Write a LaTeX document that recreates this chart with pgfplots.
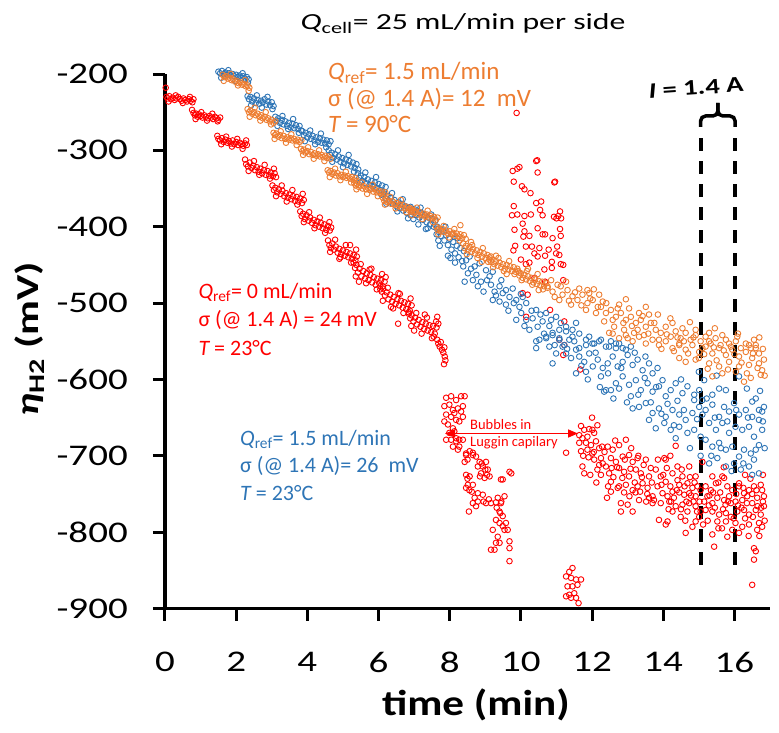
\documentclass[border=0pt]{standalone}
\usepackage{fontspec}
\setmainfont{Carlito}
\newfontfamily\chartfont{Carlito}[FakeStretch=1.3]
\newfontfamily\ylabfont{Carlito}[FakeStretch=1.34]
\newfontfamily\xlabfont{Carlito}[FakeStretch=1.2]
\newfontfamily\titlefont{Carlito}[FakeStretch=1.38]
\usepackage{pgfplots}
\pgfplotsset{compat=1.18}
\usetikzlibrary{arrows.meta}
\definecolor{ored}{RGB}{255,0,0}
\definecolor{oblue}{RGB}{46,117,182}
\definecolor{oorange}{RGB}{237,125,49}
\begin{document}
\begin{tikzpicture}
\begin{axis}[
  at={(0pt,0pt)}, anchor=south west, scale only axis,
  width=605pt, height=534.5pt,
  xmin=0, xmax=17, ymin=-900, ymax=-200,
  axis x line=bottom, axis y line=left,
  axis line style={line width=3.3pt, -},
  tick align=outside, major tick length=12pt,
  every tick/.style={black, line width=3pt},
  xtick={0,2,4,6,8,10,12,14,16},
  xticklabels={0,2,4,6,8,10,12,14,16},
  ytick={-900,-800,-700,-600,-500,-400,-300,-200},
  yticklabels={-900,-800,-700,-600,-500,-400,-300,-200},
  xticklabel style={font={\chartfont\fontsize{30}{36}\selectfont}, anchor=north, inner sep=0pt, yshift=-31.5pt},
  yticklabel style={font={\chartfont\fontsize{30}{36}\selectfont}, anchor=east, inner sep=0pt, xshift=-25pt},
  clip=false,
  every axis plot/.append style={only marks, mark=o, mark size=2.8pt, every mark/.append style={line width=0.9pt, solid}},
]
% red: Q_ref = 0 mL/min, 23 C
\addplot[ored] coordinates {
(0.02,-218) (0.04,-230) (0.08,-232) (0.12,-229) (0.17,-233) (0.22,-231) (0.27,-234) (0.32,-232) (0.37,-230) (0.42,-233) (0.47,-235) (0.52,-232) (0.57,-234) (0.62,-236) (0.67,-233) (0.72,-235) (0.77,-237) (0.80,-233)
(0.10,-236) (0.30,-228) (0.50,-238) (0.70,-230)
(0.76,-247) (0.80,-251) (0.84,-254) (0.88,-252) (0.92,-256) (0.96,-253) (1.00,-255) (1.05,-257) (1.10,-254) (1.15,-256) (1.20,-258) (1.25,-255) (1.30,-257) (1.35,-259) (1.40,-256) (1.45,-258) (1.50,-260) (1.55,-257)
(0.86,-259) (1.02,-250) (1.18,-261) (1.33,-252) (1.48,-262)
(1.47,-281) (1.50,-285) (1.55,-287) (1.60,-284) (1.65,-289) (1.70,-286) (1.75,-290) (1.80,-288) (1.85,-291) (1.90,-287) (1.95,-292) (2.00,-289) (2.05,-293) (2.10,-290) (2.15,-292) (2.20,-294) (2.25,-291) (2.30,-293)
(1.58,-292) (1.72,-282) (1.88,-295) (2.03,-285) (2.18,-298) (2.28,-287)
(2.25,-312) (2.28,-318) (2.33,-321) (2.38,-316) (2.43,-323) (2.48,-320) (2.53,-326) (2.58,-322) (2.63,-328) (2.68,-324) (2.73,-330) (2.78,-326) (2.83,-332) (2.88,-327) (2.93,-333) (2.98,-329) (3.03,-334) (3.08,-330) (3.12,-335)
(2.35,-327) (2.50,-314) (2.65,-332) (2.80,-319) (2.95,-337) (3.06,-324)
(3.02,-346) (3.06,-352) (3.10,-349) (3.15,-355) (3.20,-351) (3.25,-357) (3.30,-353) (3.35,-360) (3.40,-356) (3.45,-362) (3.50,-358) (3.55,-364) (3.60,-360) (3.65,-366) (3.70,-361) (3.75,-367) (3.80,-363) (3.85,-369) (3.90,-365)
(3.12,-360) (3.28,-346) (3.42,-367) (3.58,-352) (3.72,-371) (3.87,-357)
(3.80,-380) (3.84,-386) (3.88,-383) (3.93,-390) (3.98,-385) (4.03,-392) (4.08,-388) (4.13,-395) (4.18,-391) (4.23,-398) (4.28,-393) (4.33,-400) (4.38,-395) (4.43,-402) (4.48,-397) (4.53,-404) (4.58,-399) (4.63,-405) (4.67,-401)
(3.90,-394) (4.05,-381) (4.20,-402) (4.35,-388) (4.50,-408) (4.62,-394)
(4.58,-418) (4.62,-424) (4.66,-428) (4.70,-422) (4.75,-430) (4.80,-426) (4.85,-434) (4.90,-429) (4.95,-436) (5.00,-431) (5.05,-438) (5.10,-433) (5.15,-440) (5.20,-435) (5.25,-442) (5.30,-437) (5.35,-444) (5.39,-439) (4.9,-442) (5.2,-424)
(4.64,-433) (4.78,-417) (4.93,-440) (5.08,-424) (5.23,-447) (5.37,-430)
(5.30,-447) (5.34,-454) (5.38,-450) (5.42,-460) (5.47,-455) (5.52,-465) (5.57,-458) (5.62,-468) (5.67,-461) (5.72,-470) (5.77,-463) (5.82,-473) (5.87,-466) (5.92,-476) (5.97,-468) (6.02,-474) (6.07,-470) (6.12,-478) (6.17,-472) (6.20,-466) (5.45,-472) (5.75,-456) (6.05,-482)
(5.36,-465) (5.50,-449) (5.65,-474) (5.80,-455) (5.95,-482) (6.10,-462)
(6.05,-478) (6.09,-485) (6.13,-481) (6.18,-490) (6.23,-486) (6.28,-495) (6.33,-489) (6.38,-498) (6.43,-492) (6.48,-501) (6.53,-495) (6.58,-503) (6.63,-497) (6.68,-506) (6.73,-499) (6.78,-508) (6.83,-501) (6.88,-510) (6.93,-503) (6.35,-505) (6.60,-488) (6.85,-514)
(6.12,-497) (6.26,-480) (6.41,-507) (6.56,-487) (6.70,-513) (6.90,-494)
(6.55,-527) (6.85,-512) (6.89,-520) (6.93,-516) (6.98,-524) (7.03,-519) (7.08,-528) (7.13,-522) (7.18,-531) (7.23,-525) (7.28,-534) (7.33,-527) (7.38,-536) (7.43,-529) (7.48,-538) (7.53,-530) (7.58,-540) (7.63,-532) (7.68,-527) (7.00,-536) (7.30,-515) (7.55,-544) (7.65,-518)
(6.92,-530) (7.06,-513) (7.21,-540) (7.36,-519) (7.50,-546) (7.62,-524)
(7.65,-548) (7.68,-553) (7.72,-557) (7.75,-551) (7.78,-561) (7.82,-565) (7.85,-558) (7.86,-570) (7.88,-575) (7.84,-580)
(7.90,-624) (8.04,-622) (8.18,-627) (8.32,-622) (8.42,-622) (7.85,-635) (7.99,-633) (8.09,-640) (8.23,-638) (8.37,-635) (7.90,-646) (8.04,-649) (8.13,-644) (8.32,-642) (7.85,-655) (7.95,-659) (8.18,-653) (8.27,-655) (8.37,-649) (8.09,-664) (7.99,-670) (8.13,-668) (7.90,-679) (8.04,-679) (8.18,-677) (8.27,-679) (8.37,-679)
(8.09,-688) (8.23,-692) (8.46,-699) (8.18,-681) (8.65,-696) (8.50,-705) (8.27,-688) (8.46,-697) (8.56,-694) (8.65,-699) (8.74,-701) (8.42,-708) (8.84,-708) (9.02,-708) (8.93,-714) (8.79,-714) (9.07,-718) (8.46,-725) (8.56,-727) (8.88,-723) (8.98,-729) (9.12,-727) (9.44,-731) (9.73,-723) (9.68,-721) (9.49,-731)
(8.51,-738) (8.46,-742) (8.65,-738) (8.79,-749) (8.93,-751) (8.65,-762) (8.79,-760) (9.02,-762) (9.16,-762) (9.30,-761) (9.44,-762) (9.54,-753) (8.54,-773) (8.74,-766) (9.40,-773) (9.49,-779) (9.30,-784) (9.40,-788) (9.58,-788) (9.21,-797) (9.54,-797) (9.63,-797) (9.35,-806) (9.30,-814) (9.40,-814) (9.68,-812) (9.16,-823) (9.26,-823) (9.68,-821) (9.68,-838) (9.49,-792)
(8.90,-710) (9.00,-718) (9.05,-725) (8.85,-727) (8.50,-730) (8.55,-745) (8.62,-747) (8.70,-755) (8.95,-760) (9.10,-757) (9.35,-755) (9.45,-760) (9.32,-768) (9.42,-775)
(9.88,-251) (10.43,-314) (10.46,-313) (9.77,-327) (9.90,-324) (9.96,-322) (10.47,-329) (10.94,-342) (10.96,-341) (9.80,-341) (10.03,-347) (10.10,-351) (10.27,-356) (10.43,-369) (10.57,-367) (9.80,-373) (10.54,-378) (10.61,-385) (11.10,-380) (11.05,-386) (10.93,-387) (11.13,-389) (11.00,-389) (9.75,-385) (9.90,-384) (10.10,-386) (10.28,-384) (10.05,-396) (9.82,-404) (10.47,-402) (10.61,-410) (10.68,-410) (10.10,-406) (10.24,-412) (10.07,-413) (11.10,-403) (11.12,-412) (10.89,-415) (9.84,-425) (10.14,-426) (10.31,-426) (10.52,-428) (10.78,-430) (11.02,-426) (9.79,-431) (10.38,-435) (10.47,-439) (10.68,-438) (10.99,-435) (10.00,-443) (10.14,-449) (10.24,-447) (11.08,-437) (11.12,-449) (11.19,-450) (10.87,-446) (10.87,-454) (10.66,-456) (10.68,-472) (10.38,-467) (11.19,-470) (10.05,-487) (10.19,-489) (10.82,-509) (11.22,-524) (11.08,-548) (10.15,-518) (11.22,-555) (11.19,-568) (11.67,-587) (11.27,-696)
(11.45,-847) (11.36,-852) (11.27,-858) (11.41,-860) (11.55,-862) (11.69,-862) (11.31,-871) (11.45,-871) (11.59,-869) (11.27,-884) (11.36,-882) (11.50,-880) (11.41,-886) (11.55,-886) (11.62,-893)
(11.69,-661) (11.78,-666) (11.92,-665) (12.01,-666) (11.64,-673) (11.73,-677) (11.87,-675) (12.06,-670) (11.83,-683) (11.97,-686) (12.11,-681) (11.64,-683) (11.69,-694) (11.87,-692) (12.01,-697) (12.20,-690) (11.73,-714) (11.78,-723) (12.06,-705) (12.25,-703) (12.30,-710) (12.39,-714) (12.15,-718)
(12.44,-688) (12.58,-692) (12.76,-686) (12.95,-679) (13.04,-699) (12.53,-703) (12.67,-708) (12.86,-701) (13.14,-708) (13.28,-703) (12.48,-723) (12.76,-716) (12.90,-721) (13.04,-727) (13.23,-718) (13.37,-723) (13.51,-705) (13.60,-727) (12.76,-740) (12.95,-738) (13.14,-745) (13.28,-740) (13.42,-736) (13.56,-742) (13.70,-753) (12.53,-747) (12.81,-762) (13.00,-764) (13.14,-773) (13.32,-758) (13.60,-755) (13.70,-762) (12.53,-734) (13.88,-784) (14.12,-786) (14.07,-790) (12.81,-773)
(12.20,-712) (12.35,-695) (12.60,-728) (12.70,-715) (12.90,-748) (13.10,-690) (13.20,-735) (13.45,-712) (13.55,-750) (13.65,-716) (12.45,-740) (12.65,-680) (12.05,-695) (11.90,-702) (12.25,-725) (13.35,-747) (13.05,-753) (12.85,-729)
(13.79,-718) (13.93,-727) (14.07,-734) (14.26,-723) (14.40,-714) (14.54,-727) (14.68,-736) (14.82,-742) (14.96,-740) (13.84,-740) (13.98,-749) (14.12,-753) (14.26,-747) (14.45,-738) (14.59,-751) (14.73,-749) (14.91,-753) (15.05,-745) (13.74,-758) (13.93,-762) (14.17,-760) (14.35,-766) (14.54,-764) (14.73,-762) (14.91,-766) (15.05,-773) (14.26,-773) (14.49,-780) (14.68,-773) (14.82,-793) (14.63,-801) (14.91,-786) (15.01,-780) (14.07,-705) (14.35,-687) (14.73,-714) (14.91,-727) (14.03,-703) (15.10,-708)
(14.00,-725) (14.20,-740) (14.30,-755) (14.45,-748) (14.60,-740) (14.75,-728) (14.85,-760) (14.95,-773) (14.15,-770) (14.50,-770) (14.65,-760) (14.40,-732)
(15.19,-740) (15.34,-745) (15.48,-736) (15.66,-727) (15.80,-740) (15.94,-745) (16.13,-740) (16.27,-749) (16.41,-745) (16.55,-740) (16.74,-738) (16.78,-745) (15.24,-753) (15.38,-762) (15.52,-755) (15.71,-758) (15.85,-753) (16.03,-760) (16.22,-758) (16.36,-753) (16.50,-762) (16.64,-755) (16.83,-753) (15.19,-771) (15.38,-773) (15.57,-777) (15.76,-775) (15.90,-780) (16.08,-773) (16.27,-771) (16.41,-777) (16.60,-771) (16.74,-777) (16.83,-766)
(15.52,-786) (15.76,-786) (16.03,-788) (16.22,-793) (16.41,-790) (16.64,-797) (16.78,-793) (15.38,-803) (15.80,-806) (15.43,-819) (16.55,-821) (16.60,-825) (16.55,-836) (16.50,-869) (15.38,-727) (15.71,-729) (16.13,-736) (16.69,-788) (16.13,-801) (15.94,-797)
(15.15,-760) (15.30,-752) (15.45,-768) (15.60,-748) (15.75,-764) (15.90,-762) (16.05,-750) (16.20,-768) (16.35,-762) (16.50,-750) (16.65,-766) (16.80,-760) (15.25,-785) (15.65,-795) (16.30,-782) (16.70,-805) (15.55,-735) (16.45,-730)
(11.75,-700) (11.95,-725) (12.12,-735) (12.28,-688) (12.42,-755) (12.55,-716) (12.72,-742) (12.92,-705) (13.08,-717) (13.22,-748) (13.40,-728) (13.52,-760) (13.68,-735) (13.85,-705) (13.95,-738) (14.10,-716) (14.22,-760) (14.38,-745) (14.52,-718) (14.62,-785) (14.78,-752) (14.88,-735) (15.02,-760) (15.12,-790) (15.28,-765) (15.40,-748) (15.55,-795) (15.68,-770) (15.82,-760) (15.98,-782) (16.10,-765) (16.25,-742) (16.40,-805) (16.52,-780) (16.62,-745) (16.75,-768) (16.85,-785) (12.00,-650) (12.15,-660) (13.30,-700) (14.20,-700) (15.70,-715) (16.30,-725) (16.80,-725)
};
% blue: Q_ref = 1.5 mL/min, 23 C
\addplot[oblue] coordinates {
(1.50,-197) (1.55,-199) (1.60,-196) (1.65,-200) (1.70,-198) (1.75,-201) (1.80,-199) (1.85,-202) (1.90,-200) (1.95,-203) (2.00,-201) (2.05,-204) (2.10,-202) (2.15,-205) (2.20,-203) (2.25,-206) (2.30,-204) (2.35,-207)
(1.58,-205) (1.78,-195) (1.98,-209) (2.18,-199) (2.33,-211)
(2.32,-229) (2.36,-233) (2.40,-230) (2.45,-236) (2.50,-232) (2.55,-238) (2.60,-234) (2.65,-239) (2.70,-235) (2.75,-237) (2.80,-233) (2.85,-240) (2.90,-236) (2.95,-241) (3.00,-237) (3.05,-242)
(2.42,-241) (2.58,-228) (2.72,-244) (2.88,-230) (3.02,-246)
(3.10,-256) (3.14,-261) (3.18,-258) (3.23,-264) (3.28,-260) (3.33,-266) (3.38,-262) (3.43,-268) (3.48,-264) (3.53,-270) (3.58,-265) (3.63,-271) (3.68,-267) (3.73,-272) (3.78,-268) (3.83,-274)
(3.16,-268) (3.30,-255) (3.46,-272) (3.60,-259) (3.76,-277)
(3.86,-275) (3.90,-280) (3.95,-277) (4.00,-283) (4.05,-279) (4.10,-285) (4.15,-281) (4.20,-287) (4.25,-283) (4.30,-289) (4.35,-284) (4.40,-290) (4.45,-286) (4.50,-291) (4.55,-287) (4.60,-292) (4.65,-288)
(3.93,-288) (4.08,-274) (4.22,-292) (4.38,-278) (4.53,-296)
(4.60,-300) (4.64,-306) (4.68,-303) (4.73,-310) (4.78,-305) (4.83,-312) (4.88,-308) (4.93,-315) (4.98,-310) (5.03,-317) (5.08,-312) (5.13,-319) (5.18,-314) (5.23,-321) (5.28,-316) (5.33,-323) (5.38,-318) (5.43,-325)
(4.70,-315) (4.86,-300) (5.00,-322) (5.16,-306) (5.31,-328)
(5.42,-330) (5.46,-336) (5.50,-333) (5.55,-340) (5.60,-335) (5.65,-343) (5.70,-338) (5.75,-345) (5.80,-340) (5.85,-347) (5.90,-342) (5.95,-349) (6.00,-344) (6.05,-352) (6.10,-346) (6.15,-354) (6.20,-348)
(5.48,-342) (5.63,-329) (5.78,-350) (5.93,-335) (6.08,-358)
(6.15,-357) (6.20,-363) (6.25,-360) (6.30,-367) (6.35,-362) (6.40,-370) (6.45,-365) (6.50,-373) (6.55,-368) (6.60,-376) (6.65,-370) (6.70,-379) (6.75,-373) (6.80,-382) (6.85,-375) (6.90,-385) (6.95,-378)
(6.22,-370) (6.38,-356) (6.53,-380) (6.68,-364) (6.83,-389)
(6.90,-374) (6.95,-381) (7.00,-377) (7.05,-385) (7.10,-379) (7.15,-388) (7.20,-382) (7.25,-391) (7.30,-385) (7.35,-394) (7.40,-388) (7.45,-397) (7.50,-390) (7.55,-400) (7.60,-392) (7.65,-403) (7.12,-397) (7.38,-402)
(6.98,-390) (7.18,-375) (7.33,-403) (7.48,-384) (7.63,-410)
(7.65,-400) (7.70,-407) (7.75,-412) (7.80,-405) (7.85,-418) (7.90,-411) (7.95,-424) (8.00,-416) (8.05,-430) (8.10,-420) (8.15,-435) (8.20,-425) (8.25,-440) (8.30,-428) (8.35,-445) (8.40,-432) (7.72,-425) (7.95,-438) (8.15,-447)
(7.68,-418) (7.88,-400) (8.02,-441) (8.22,-415) (8.38,-452) (8.08,-410)
(8.46,-444) (8.56,-439) (8.70,-452) (8.84,-448) (8.51,-461) (8.65,-470) (8.88,-472) (9.02,-457) (9.12,-465) (9.21,-459) (8.42,-472) (8.79,-478) (9.16,-476) (9.26,-485) (9.40,-478) (9.49,-487) (9.58,-483) (9.68,-492) (9.77,-481) (9.21,-496) (9.40,-498) (9.58,-502) (9.87,-496) (9.96,-505) (10.05,-492) (10.15,-500) (10.01,-513) (10.15,-522) (10.33,-520) (10.43,-509) (10.24,-535) (9.87,-522) (10.47,-531) (10.61,-524) (10.71,-513) (10.85,-522) (10.99,-518) (10.52,-548) (10.71,-546) (10.89,-539) (11.08,-535) (11.27,-531) (11.45,-535) (11.55,-526) (10.43,-559) (10.80,-557) (11.08,-548) (11.22,-555) (11.36,-548) (11.64,-559) (11.83,-555) (12.01,-553) (12.20,-550) (12.48,-557) (12.67,-553) (12.86,-559)
(10.43,-550) (10.71,-544) (10.89,-542) (11.08,-546) (11.27,-537) (11.45,-544) (11.64,-540) (11.83,-548) (11.92,-544) (12.06,-553) (12.25,-548) (12.39,-557) (12.53,-550) (12.67,-559) (12.76,-553) (12.95,-561) (13.09,-557) (10.89,-579) (10.99,-566) (11.17,-557) (11.27,-566) (11.41,-572) (11.55,-561) (11.64,-570) (11.78,-577) (11.92,-566) (12.02,-583) (12.16,-574) (12.30,-585) (12.44,-579) (12.58,-570) (12.72,-583) (12.86,-577) (13.00,-568) (13.14,-581) (13.28,-574) (13.42,-588) (13.60,-579) (13.70,-592) (13.84,-585) (13.98,-601) (11.55,-592) (11.83,-590) (12.25,-596)
(12.39,-614) (12.67,-605) (12.86,-596) (13.04,-607) (13.23,-601) (13.37,-614) (13.56,-605) (13.70,-616) (13.88,-609) (14.07,-622) (14.21,-614) (14.35,-605) (14.54,-618) (14.68,-609) (14.87,-620) (15.01,-614) (12.34,-616) (12.53,-614) (12.76,-612) (13.09,-622) (13.32,-636) (13.51,-631) (13.70,-644) (13.88,-638) (14.07,-649) (14.26,-640) (14.45,-646) (14.63,-653) (14.82,-644) (15.01,-636) (15.10,-627) (13.14,-638) (13.60,-653) (13.79,-664) (14.03,-657) (14.21,-666) (14.45,-662) (14.68,-670) (14.87,-666) (15.05,-675)
(15.19,-640) (15.38,-633) (15.57,-649) (15.71,-636) (15.85,-642) (15.99,-631) (16.13,-646) (16.32,-640) (16.50,-649) (16.69,-640) (16.83,-636) (15.29,-657) (15.48,-666) (15.66,-657) (15.85,-670) (16.03,-662) (16.22,-666) (16.41,-662) (16.55,-675) (16.69,-653) (16.78,-666) (15.19,-679) (15.38,-688) (15.57,-683) (15.76,-692) (15.94,-688) (16.13,-701) (16.27,-692) (16.46,-697) (16.60,-692) (16.69,-686) (15.29,-710) (15.52,-703) (15.76,-714) (15.99,-710) (16.18,-718) (16.41,-714) (16.50,-725) (16.69,-723) (15.15,-601) (15.76,-614) (16.13,-596) (16.50,-629) (16.78,-642) (14.35,-677) (15.10,-646) (14.87,-627) (15.38,-620) (15.57,-612) (16.60,-625)
(8.60,-455) (8.75,-463) (8.95,-485) (9.05,-470) (9.30,-490) (9.45,-470) (9.65,-510) (9.80,-500) (10.00,-488) (10.10,-530) (10.30,-510) (10.55,-515) (10.65,-540) (10.80,-530) (10.95,-555) (11.12,-526) (11.30,-560) (11.50,-550) (11.70,-582) (11.88,-600) (12.10,-565) (12.22,-610) (12.45,-592) (12.60,-625) (12.82,-585) (12.98,-630) (13.20,-565) (13.30,-620) (13.48,-598) (13.65,-630) (13.80,-610) (13.95,-645) (14.12,-632) (14.30,-660) (14.40,-628) (14.58,-640) (14.75,-690) (14.95,-652) (15.05,-700) (15.22,-625) (15.35,-700) (15.45,-650) (15.62,-690) (15.80,-655) (15.92,-720) (16.05,-640) (16.25,-710) (16.38,-650) (16.55,-705) (16.72,-615) (16.85,-690) (15.00,-590) (15.50,-595) (16.35,-612) (14.50,-600) (13.50,-570) (16.80,-655)
};
% orange: Q_ref = 1.5 mL/min, 90 C
\addplot[oorange] coordinates {
(1.62,-201) (1.67,-204) (1.72,-203) (1.77,-206) (1.82,-205) (1.87,-208) (1.92,-207) (1.97,-210) (2.02,-209) (2.07,-212) (2.12,-211) (2.17,-214) (2.22,-213) (2.27,-216) (2.32,-215) (2.37,-218)
(1.65,-209) (1.85,-200) (2.05,-215) (2.25,-208) (2.35,-222)
(2.32,-246) (2.36,-250) (2.40,-248) (2.45,-252) (2.50,-250) (2.55,-254) (2.60,-252) (2.65,-256) (2.70,-254) (2.75,-258) (2.80,-256) (2.85,-260) (2.90,-258) (2.95,-262) (3.00,-260) (3.05,-264) (3.10,-262)
(2.38,-256) (2.52,-244) (2.68,-261) (2.83,-250) (2.98,-266)
(3.05,-277) (3.09,-280) (3.13,-278) (3.18,-282) (3.23,-280) (3.28,-284) (3.33,-281) (3.38,-285) (3.43,-283) (3.48,-286) (3.53,-284) (3.58,-287) (3.63,-285) (3.68,-288) (3.73,-286) (3.78,-289) (3.83,-287)
(3.08,-285) (3.25,-275) (3.40,-290) (3.55,-279) (3.70,-293)
(3.82,-298) (3.86,-301) (3.90,-299) (3.95,-303) (4.00,-301) (4.05,-305) (4.10,-302) (4.15,-306) (4.20,-304) (4.25,-307) (4.30,-305) (4.35,-308) (4.40,-306) (4.45,-309) (4.50,-307) (4.55,-310) (4.60,-308) (4.65,-311)
(3.88,-306) (4.02,-296) (4.18,-311) (4.33,-300) (4.48,-314)
(4.57,-326) (4.61,-329) (4.65,-327) (4.70,-331) (4.75,-329) (4.80,-333) (4.85,-330) (4.90,-334) (4.95,-332) (5.00,-335) (5.05,-333) (5.10,-336) (5.15,-334) (5.20,-337) (5.25,-335) (5.30,-339) (5.35,-336) (5.39,-340)
(4.63,-335) (4.78,-324) (4.93,-339) (5.08,-328) (5.23,-342)
(5.32,-343) (5.36,-346) (5.40,-344) (5.45,-348) (5.50,-346) (5.55,-350) (5.60,-347) (5.65,-351) (5.70,-349) (5.75,-352) (5.80,-350) (5.85,-354) (5.90,-351) (5.95,-355) (6.00,-353) (6.05,-356) (6.10,-354) (6.15,-358) (6.19,-355)
(5.38,-351) (5.53,-342) (5.68,-357) (5.83,-345) (5.98,-360)
(6.12,-362) (6.16,-366) (6.20,-364) (6.25,-368) (6.30,-366) (6.35,-370) (6.40,-367) (6.45,-371) (6.50,-369) (6.55,-373) (6.60,-371) (6.65,-375) (6.70,-372) (6.75,-376) (6.80,-374) (6.85,-378) (6.90,-376) (6.94,-380)
(6.18,-371) (6.33,-361) (6.48,-376) (6.63,-365) (6.78,-381)
(6.88,-376) (6.92,-380) (6.96,-378) (7.01,-382) (7.06,-380) (7.11,-384) (7.16,-381) (7.21,-385) (7.26,-383) (7.31,-387) (7.36,-384) (7.41,-388) (7.46,-386) (7.51,-389) (7.56,-387) (7.61,-391) (7.66,-388)
(6.93,-385) (7.08,-375) (7.23,-390) (7.38,-379) (7.53,-394)
(7.62,-400) (7.66,-404) (7.70,-402) (7.75,-406) (7.80,-403) (7.85,-407) (7.90,-405) (7.95,-409) (8.00,-406) (8.05,-410) (8.10,-408) (8.15,-412) (8.20,-409) (8.25,-413) (8.30,-410) (8.35,-415) (8.40,-411) (8.45,-416) (8.30,-398)
(7.68,-410) (7.83,-399) (7.98,-414) (8.13,-403) (8.28,-418)
(8.38,-422) (8.42,-428) (8.46,-425) (8.51,-431) (8.56,-427) (8.61,-433) (8.66,-429) (8.71,-435) (8.76,-431) (8.81,-437) (8.86,-433) (8.91,-439) (8.96,-435) (9.01,-441) (9.06,-437) (9.11,-443) (9.16,-439) (8.60,-420) (8.90,-446)
(8.48,-436) (8.63,-424) (8.78,-441) (8.93,-428) (9.08,-446)
(9.12,-440) (9.16,-446) (9.20,-443) (9.25,-449) (9.30,-445) (9.35,-451) (9.40,-447) (9.45,-453) (9.50,-449) (9.55,-455) (9.60,-450) (9.65,-456) (9.70,-452) (9.75,-458) (9.80,-453) (9.85,-459) (9.90,-455) (9.95,-460) (9.30,-438) (9.60,-462)
(9.22,-453) (9.37,-441) (9.52,-458) (9.67,-445) (9.82,-462)
(9.92,-458) (9.96,-464) (10.00,-461) (10.05,-467) (10.10,-463) (10.15,-469) (10.20,-465) (10.25,-471) (10.30,-467) (10.35,-473) (10.40,-469) (10.45,-475) (10.50,-471) (10.55,-477) (10.60,-472) (10.65,-478) (10.70,-474) (10.75,-480) (10.20,-455) (10.50,-483)
(10.02,-470) (10.17,-458) (10.32,-476) (10.47,-462) (10.62,-482)
(10.75,-478) (10.89,-485) (11.03,-476) (11.17,-489) (11.31,-483) (11.45,-491) (11.59,-496) (11.73,-489) (11.87,-500) (12.02,-496) (12.16,-505) (12.30,-498) (10.85,-470) (11.27,-472) (11.64,-481) (11.92,-487) (12.20,-489) (11.08,-496) (11.41,-502) (11.83,-509) (12.11,-513) (11.87,-483)
(12.25,-505) (12.39,-513) (12.53,-509) (12.67,-518) (12.81,-513) (12.95,-522) (13.09,-518) (13.23,-526) (13.37,-522) (13.51,-531) (13.65,-526) (12.34,-524) (12.62,-531) (12.90,-535) (13.18,-539) (13.46,-542) (12.76,-502) (13.04,-507) (13.32,-513) (13.60,-515) (12.48,-539) (13.00,-546) (13.51,-505)
(13.79,-535) (13.93,-539) (14.07,-531) (14.21,-544) (14.35,-537) (14.49,-546) (14.63,-539) (14.77,-548) (14.91,-542) (15.05,-550) (15.19,-544) (15.33,-553) (15.47,-546) (15.61,-555) (15.76,-548) (15.90,-557) (16.04,-550) (16.18,-559) (16.32,-553) (16.46,-559) (16.60,-555) (14.26,-526) (14.54,-533) (14.91,-535) (15.29,-539) (15.66,-542) (16.08,-544) (16.55,-548) (13.88,-548) (14.45,-555) (15.10,-559)
(12.58,-540) (12.76,-546) (12.95,-542) (13.14,-550) (13.32,-544) (13.51,-553) (13.70,-548) (13.88,-555) (14.07,-550) (14.26,-559) (14.45,-553) (14.63,-561) (14.82,-555) (15.01,-564) (15.19,-557) (15.38,-566) (15.57,-559) (15.76,-568) (15.94,-561) (16.13,-570) (16.32,-564) (16.50,-572) (16.69,-566) (16.83,-574)
(14.45,-572) (14.63,-577) (14.91,-574) (15.29,-579) (15.57,-583) (15.85,-577) (16.13,-583) (16.41,-581) (16.69,-579) (16.78,-588) (15.38,-596) (15.66,-592) (16.04,-590) (16.27,-603) (16.46,-598) (16.74,-594) (15.29,-550) (15.85,-553) (16.41,-555) (16.60,-559)
(10.95,-492) (11.12,-478) (11.35,-497) (11.52,-486) (11.70,-503) (11.95,-494) (12.05,-482) (12.40,-500) (12.58,-522) (12.72,-507) (12.88,-526) (13.12,-530) (13.28,-535) (13.42,-517) (13.58,-540) (13.75,-526) (13.95,-560) (14.10,-541) (14.30,-563) (14.40,-545) (14.58,-550) (14.70,-566) (14.85,-545) (15.00,-572) (15.15,-567) (15.25,-586) (15.42,-558) (15.50,-575) (15.70,-562) (15.82,-587) (16.00,-567) (16.20,-578) (16.35,-592) (16.52,-566) (16.65,-585) (16.80,-560) (16.85,-595) (14.20,-520) (14.75,-525) (15.45,-533) (16.10,-540) (16.70,-545) (13.85,-515) (12.95,-495)
};
\draw[line width=4pt, dash pattern=on 13pt off 10pt] (axis cs:15.05,-284) -- (axis cs:15.05,-845);
\draw[line width=4pt, dash pattern=on 13pt off 10pt] (axis cs:16.02,-284) -- (axis cs:16.02,-845);
\end{axis}
% brace
\draw[line width=3.5pt, rounded corners=5pt] (535.6pt,481.5pt) -- (535.6pt,492.5pt) -- (552.9pt,492.5pt) -- (552.9pt,505.5pt);
\draw[line width=3.5pt, rounded corners=5pt] (570.1pt,481.5pt) -- (570.1pt,492.5pt) -- (552.9pt,492.5pt) -- (552.9pt,505.5pt);
% title
\node[anchor=base, inner sep=0pt, font={\titlefont\fontsize{23}{28}\selectfont}] at (298pt,578.5pt) {{\itshape Q}\textsubscript{cell}= 25 mL/min per side};
% orange text
\begin{scope}[every node/.style={anchor=base west, inner sep=0pt, text=oorange, font={\fontsize{25}{30}\selectfont}}]
\node at (163pt,528.5pt) {{\itshape Q}\textsubscript{ref}= 1.5 mL/min};
\node at (163pt,501.5pt) {σ (@ 1.4 A)= 12\ \ mV};
\node at (163pt,475.5pt) {{\itshape T} = 90°C};
\end{scope}
% red text
\begin{scope}[every node/.style={anchor=base west, inner sep=0pt, text=ored, font={\fontsize{22}{27}\selectfont}}]
\node at (33.3pt,310.2pt) {{\itshape Q}\textsubscript{ref}= 0 mL/min};
\node at (33.3pt,281.8pt) {σ (@ 1.4 A) = 24 mV};
\node at (33.3pt,253.5pt) {{\itshape T} = 23°C};
\end{scope}
% blue text
\begin{scope}[every node/.style={anchor=base west, inner sep=0pt, text=oblue, font={\fontsize{22}{27}\selectfont}}]
\node at (75pt,163.5pt) {{\itshape Q}\textsubscript{ref}= 1.5 mL/min};
\node at (75pt,135.8pt) {σ (@ 1.4 A)= 26\ \ mV};
\node at (75pt,108.5pt) {{\itshape T} = 23°C};
\end{scope}
% bubbles
\node[anchor=base west, inner sep=0pt, text=ored, font={\fontsize{14.5}{17}\selectfont}] at (305pt,179.2pt) {Bubbles in};
\node[anchor=base west, inner sep=0pt, text=ored, font={\fontsize{14.5}{17}\selectfont}] at (305pt,161.8pt) {Luggin capilary};
\draw[ored, line width=1.5pt, {Triangle[length=10pt,width=8pt]}-{Triangle[length=10pt,width=8pt]}] (280pt,175pt) -- (413pt,175pt);
% current label
\node[rotate=4, anchor=center, inner sep=0pt, font={\chartfont\bfseries\fontsize{22}{26}\selectfont}] at (531pt,520.5pt) {{\itshape I} = 1.4 A};
% axis labels
\node[rotate=90, anchor=center, inner sep=0pt, font={\ylabfont\bfseries\fontsize{32}{38}\selectfont}] at (-135pt,269.5pt) {{\itshape η}\textsubscript{H2} (mV)};
\node[anchor=base, inner sep=0pt, font={\xlabfont\bfseries\fontsize{36}{43}\selectfont}] at (311pt,-106.5pt) {time (min)};
\pgfresetboundingbox
\useasboundingbox (-165pt,-123.5pt) rectangle (614pt,608.5pt);
\end{tikzpicture}
\end{document}
